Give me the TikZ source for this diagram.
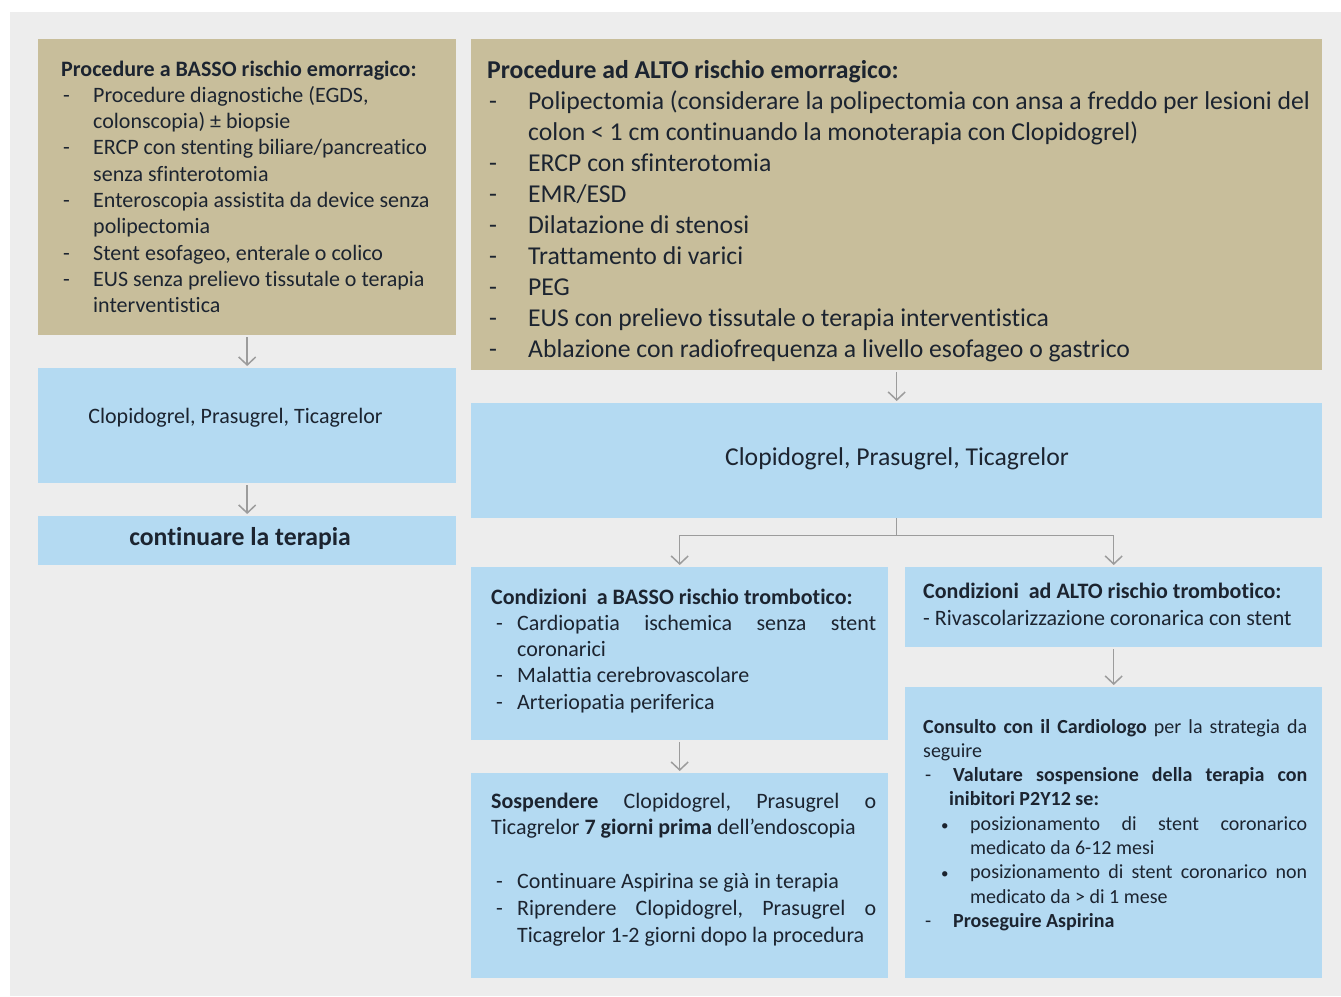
\documentclass[tikz,border=0pt]{standalone}
\usepackage{fontspec}
\setmainfont{Carlito}[Ligatures={NoCommon}]
\usetikzlibrary{arrows.meta}
\definecolor{tanfill}{HTML}{C8BE9B}
\definecolor{bluefill}{HTML}{B4DAF2}
\definecolor{bggray}{HTML}{EDEDED}
\definecolor{arrgray}{HTML}{9C9C9C}
\definecolor{ink}{HTML}{1C2430}
\frenchspacing
\newcommand{\dsh}[2]{\makebox[#1][l]{\hspace{#2}-}}
\newcommand{\jline}[2]{\makebox[#1][s]{\spaceskip=0.226em plus 1fil\relax #2}}
\newcommand{\bul}[2]{\makebox[#1][l]{\hspace{#2}{\fontsize{15}{15}\selectfont\textbullet}}}
\begin{document}
\begin{tikzpicture}[x=1pt, y=-1pt,
    tanbox/.style={fill=tanfill, inner sep=0pt, anchor=north west},
    bluebox/.style={fill=bluefill, inner sep=0pt, anchor=north west},
    txt/.style={inner sep=0pt, anchor=base west, text=ink,
        execute at begin node={\spaceskip=0pt\xspaceskip=0pt\relax}},
    arr/.style={draw=arrgray, line width=1.5pt, shorten <=2pt, shorten >=2pt,
        -{Straight Barb[length=8pt,width=17pt]}}]
            \fill[white] (0, 0) rectangle (1341, 996);
            \fill[bggray] (10, 12) rectangle (1341, 996);
            \node[tanbox, minimum width=418pt, minimum height=296pt] (A) at (38, 39) {};
            \node[bluebox, minimum width=418pt, minimum height=115pt] (H) at (38, 368) {};
            \node[bluebox, minimum width=418pt, minimum height=49pt] (I) at (38, 516) {};
            \node[tanbox, minimum width=851pt, minimum height=331pt] (B) at (471, 39) {};
            \node[bluebox, minimum width=851pt, minimum height=115pt] (C) at (471, 403) {};
            \node[bluebox, minimum width=417pt, minimum height=173pt] (D) at (471, 567) {};
            \node[bluebox, minimum width=417pt, minimum height=80pt] (E) at (905, 567) {};
            \node[bluebox, minimum width=417pt, minimum height=205pt] (F) at (471, 773) {};
            \node[bluebox, minimum width=417pt, minimum height=291pt] (G) at (905, 687) {};
            \node[txt, text width=395pt, font=\fontsize{22}{26.3}\selectfont] (Atxt) at (61, 76) {%
                \textbf{Procedure a BASSO rischio emorragico:}\\
                \dsh{32pt}{2pt}Procedure diagnostiche (EGDS,\\
                \hspace*{32pt}colonscopia) ± biopsie\\
                \dsh{32pt}{2pt}ERCP con stenting biliare/pancreatico\\
                \hspace*{32pt}senza sfinterotomia\\
                \dsh{32pt}{2pt}Enteroscopia assistita da device senza\\
                \hspace*{32pt}polipectomia\\
                \dsh{32pt}{2pt}Stent esofageo, enterale o colico\\
                \dsh{32pt}{2pt}EUS senza prelievo tissutale o terapia\\
                \hspace*{32pt}interventistica};
            \node[txt, text width=834pt, font=\fontsize{25.7}{31}\selectfont] (Btxt) at (487, 78) {%
                \textbf{Procedure ad ALTO rischio emorragico:}\\
                \dsh{41pt}{2pt}Polipectomia (considerare la polipectomia con ansa a freddo per lesioni del\\
                \hspace*{41pt}colon < 1 cm continuando la monoterapia con Clopidogrel)\\
                \dsh{41pt}{2pt}ERCP con sfinterotomia\\
                \dsh{41pt}{2pt}EMR/ESD\\
                \dsh{41pt}{2pt}Dilatazione di stenosi\\
                \dsh{41pt}{2pt}Trattamento di varici\\
                \dsh{41pt}{2pt}PEG\\
                \dsh{41pt}{2pt}EUS con prelievo tissutale o terapia interventistica\\
                \dsh{41pt}{2pt}Ablazione con radiofrequenza a livello esofageo o gastrico};
            \node[inner sep=0pt, text=ink, font=\fontsize{22}{26.3}\selectfont] (Htxt) at (235.5, 418) {Clopidogrel, Prasugrel, Ticagrelor};
            \node[inner sep=0pt, text=ink, font=\fontsize{25.7}{30}\selectfont\bfseries] (Itxt) at (240, 538) {continuare la terapia};
            \node[inner sep=0pt, text=ink, font=\fontsize{25.7}{31}\selectfont] (Ctxt) at (897, 459) {Clopidogrel, Prasugrel, Ticagrelor};
            \node[txt, text width=395pt, font=\fontsize{22}{26.3}\selectfont] (Dtxt) at (491, 604) {%
                \textbf{Condizioni \ a BASSO rischio trombotico:}\\
                \dsh{26pt}{5pt}\jline{359pt}{Cardiopatia ischemica senza stent}\\
                \hspace*{26pt}coronarici\\
                \dsh{26pt}{5pt}Malattia cerebrovascolare\\
                \dsh{26pt}{5pt}Arteriopatia periferica};
            \node[txt, text width=395pt, font=\fontsize{22}{27}\selectfont] (Etxt) at (923, 598) {%
                \textbf{Condizioni \ ad ALTO rischio trombotico:}\\
                - Rivascolarizzazione coronarica con stent};
            \node[txt, text width=395pt, font=\fontsize{22}{26.8}\selectfont] (Ftxt) at (491, 808) {%
                \jline{385pt}{\textbf{Sospendere} Clopidogrel, Prasugrel o}\\
                Ticagrelor \textbf{7 giorni prima} dell’endoscopia\\[26.8pt]
                \dsh{26pt}{5pt}Continuare Aspirina se già in terapia\\
                \dsh{26pt}{5pt}\jline{359pt}{Riprendere Clopidogrel, Prasugrel o}\\
                \hspace*{26pt}Ticagrelor 1-2 giorni dopo la procedura};
            \node[txt, text width=395pt, font=\fontsize{20}{24.3}\selectfont] (Gtxt) at (923, 733) {%
                \jline{384pt}{\textbf{Consulto con il Cardiologo} per la strategia da}\\
                seguire\\
                \dsh{30pt}{2pt}\jline{354pt}{\textbf{Valutare sospensione della terapia con}}\\
                \hspace*{26pt}\textbf{inibitori P2Y12 se:}\\
                \bul{47pt}{18pt}\jline{337pt}{posizionamento di stent coronarico}\\
                \hspace*{47pt}medicato da 6-12 mesi\\
                \bul{47pt}{18pt}\jline{337pt}{posizionamento di stent coronarico non}\\
                \hspace*{47pt}medicato da > di 1 mese\\
                \dsh{30pt}{2pt}\textbf{Proseguire Aspirina}};
            \draw[arr] (A) -- (H);
            \draw[arr] (H) -- (I);
            \draw[arr] (B) -- (C);
            \draw[arr, shorten <=0pt] (C.south) -- ++(0, 17) -| (D.north);
            \draw[arr, shorten <=0pt] (C.south) -- ++(0, 17) -| (E.north);
            \draw[arr] (D) -- (F);
            \draw[arr] (E) -- (G);
        \end{tikzpicture}
\end{document}
